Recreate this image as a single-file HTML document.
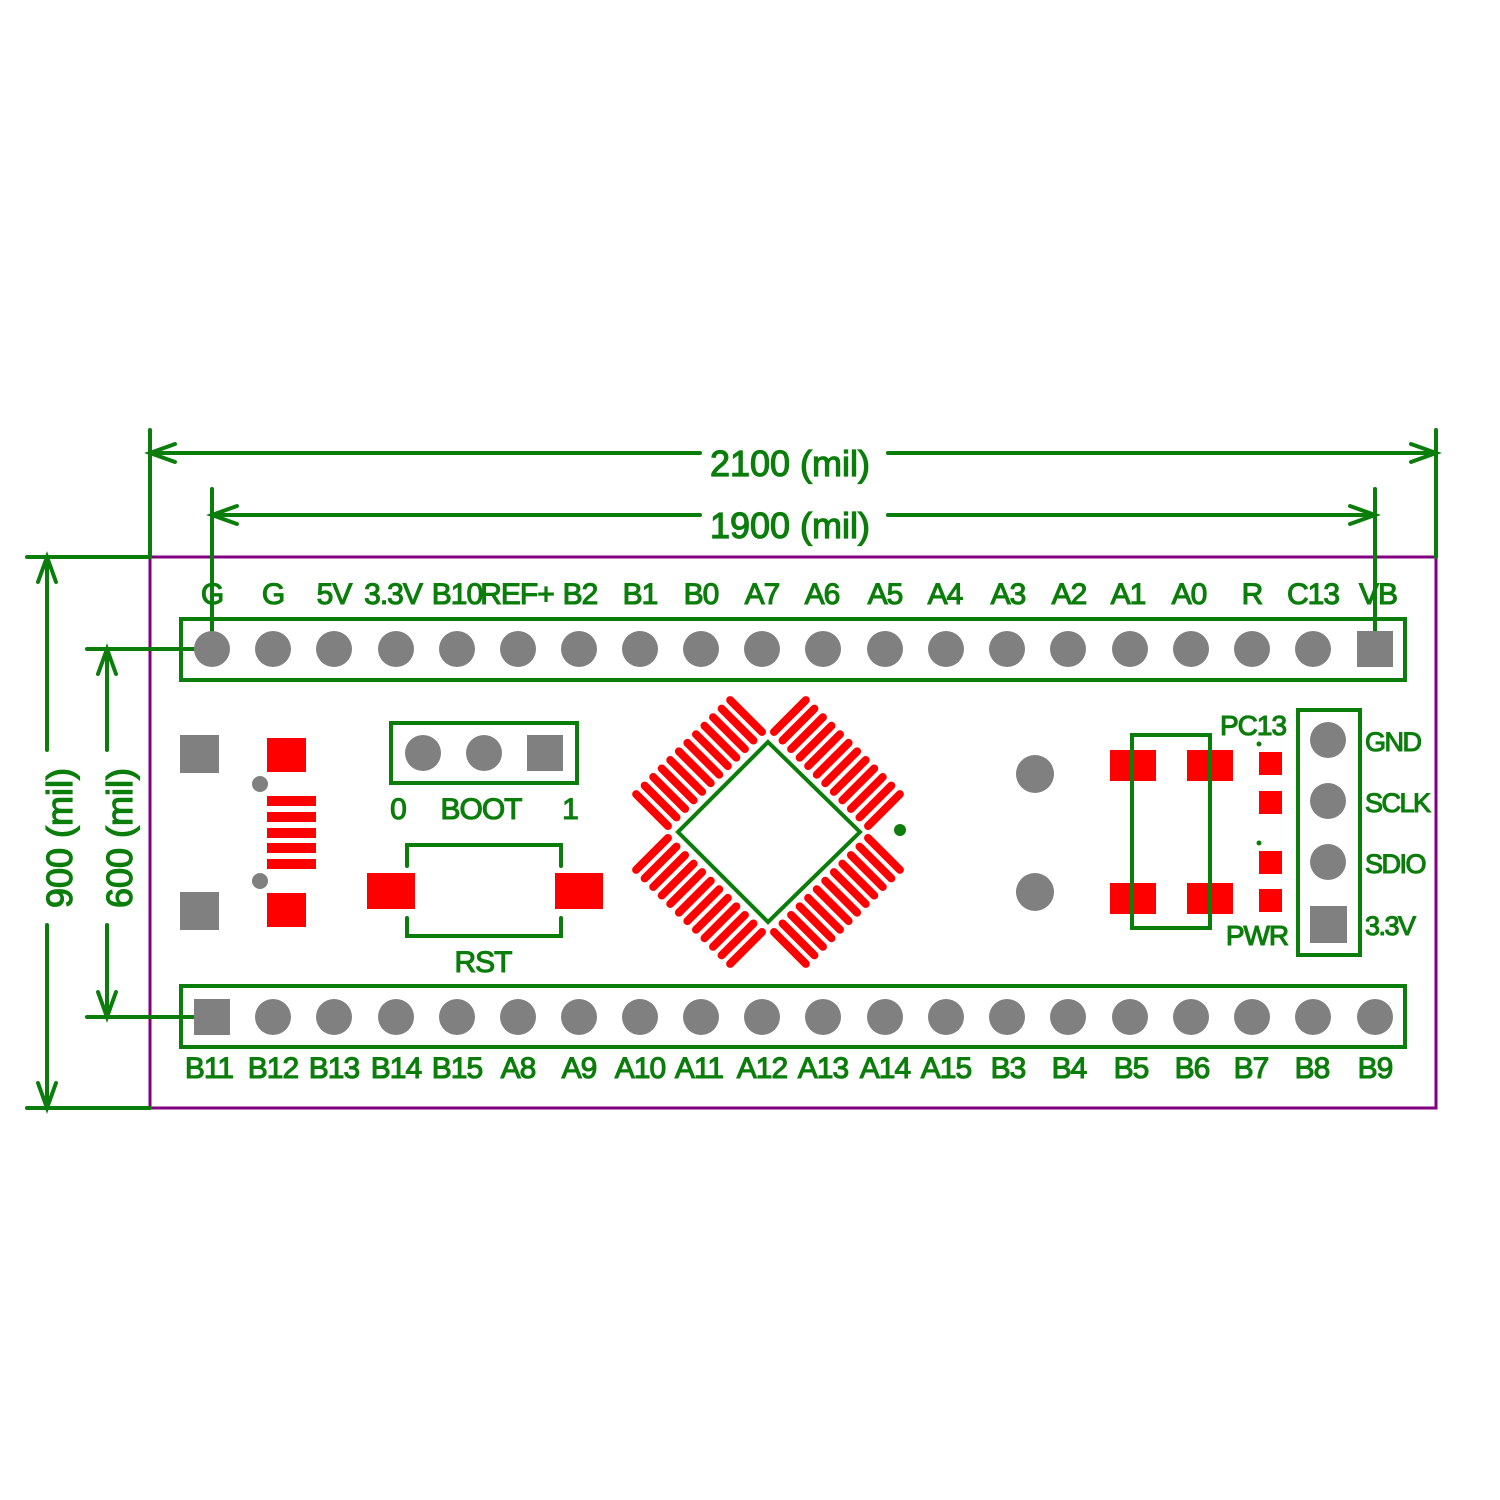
<!DOCTYPE html>
<html><head><meta charset="utf-8"><style>html,body{margin:0;padding:0;background:#fff}svg{display:block}</style></head>
<body>
<svg width="1500" height="1500" viewBox="0 0 1500 1500" xmlns="http://www.w3.org/2000/svg" font-family="Liberation Sans, sans-serif">
<rect width="1500" height="1500" fill="#fff"/>
<rect x="150" y="557" width="1286" height="551" fill="none" stroke="#800080" stroke-width="3"/>
<g stroke="#0b7d0b" stroke-width="4" fill="none" stroke-linecap="round">
  <line x1="150" y1="430" x2="150" y2="557"/>
  <line x1="1436" y1="430" x2="1436" y2="557"/>
  <line x1="150" y1="453" x2="700" y2="453"/>
  <line x1="888" y1="453" x2="1436" y2="453"/>
  <polyline points="175,444 150,453 175,462"/>
  <polyline points="1411,444 1436,453 1411,462"/>
  <line x1="212" y1="489" x2="212" y2="649"/>
  <line x1="1375" y1="489" x2="1375" y2="649"/>
  <line x1="212" y1="515" x2="700" y2="515"/>
  <line x1="888" y1="515" x2="1375" y2="515"/>
  <polyline points="237,506 212,515 237,524"/>
  <polyline points="1350,506 1375,515 1350,524"/>
  <line x1="27" y1="557" x2="150" y2="557"/>
  <line x1="27" y1="1108" x2="150" y2="1108"/>
  <line x1="47" y1="557" x2="47" y2="750"/>
  <line x1="47" y1="925" x2="47" y2="1108"/>
  <polyline points="38,582 47,557 56,582"/>
  <polyline points="38,1083 47,1108 56,1083"/>
  <line x1="87" y1="649" x2="212" y2="649"/>
  <line x1="87" y1="1017" x2="212" y2="1017"/>
  <line x1="107" y1="649" x2="107" y2="750"/>
  <line x1="107" y1="925" x2="107" y2="1017"/>
  <polyline points="98,674 107,649 116,674"/>
  <polyline points="98,992 107,1017 116,992"/>
  <rect x="181" y="619" width="1224" height="61"/>
  <rect x="181" y="986" width="1224" height="61"/>
  <rect x="391" y="723" width="186" height="60"/>
  <polyline points="407,866 407,845 561,845 561,866"/>
  <polyline points="407,918 407,936 561,936 561,918"/>
  <polygon points="768,742 860,832 768,922 678,832"/>
  <rect x="1132" y="735" width="78" height="193"/>
  <rect x="1298" y="710" width="62" height="245"/>
</g>
<circle cx="900" cy="830" r="6" fill="#0b7d0b"/>
<circle cx="1259" cy="744" r="2.5" fill="#0b7d0b"/>
<circle cx="1259" cy="843" r="2.5" fill="#0b7d0b"/>
<g fill="#0b7d0b" stroke="#0b7d0b" stroke-width="1.2" font-size="36" text-anchor="middle">
  <text x="790" y="476">2100 (mil)</text>
  <text x="790" y="538">1900 (mil)</text>
  <text transform="translate(72,838) rotate(-90)">900 (mil)</text>
  <text transform="translate(132,838) rotate(-90)">600 (mil)</text>
</g>
<g fill="#808080">
  <circle cx="212" cy="649" r="18"/><circle cx="273" cy="649" r="18"/><circle cx="334" cy="649" r="18"/><circle cx="396" cy="649" r="18"/><circle cx="457" cy="649" r="18"/><circle cx="518" cy="649" r="18"/><circle cx="579" cy="649" r="18"/><circle cx="640" cy="649" r="18"/><circle cx="701" cy="649" r="18"/><circle cx="762" cy="649" r="18"/><circle cx="823" cy="649" r="18"/><circle cx="885" cy="649" r="18"/><circle cx="946" cy="649" r="18"/><circle cx="1007" cy="649" r="18"/><circle cx="1068" cy="649" r="18"/><circle cx="1130" cy="649" r="18"/><circle cx="1191" cy="649" r="18"/><circle cx="1252" cy="649" r="18"/><circle cx="1313" cy="649" r="18"/>
  <rect x="1357" y="631" width="36" height="36"/>
  <rect x="194" y="999" width="36" height="36"/>
  <circle cx="273" cy="1017" r="18"/><circle cx="334" cy="1017" r="18"/><circle cx="396" cy="1017" r="18"/><circle cx="457" cy="1017" r="18"/><circle cx="518" cy="1017" r="18"/><circle cx="579" cy="1017" r="18"/><circle cx="640" cy="1017" r="18"/><circle cx="701" cy="1017" r="18"/><circle cx="762" cy="1017" r="18"/><circle cx="823" cy="1017" r="18"/><circle cx="885" cy="1017" r="18"/><circle cx="946" cy="1017" r="18"/><circle cx="1007" cy="1017" r="18"/><circle cx="1068" cy="1017" r="18"/><circle cx="1130" cy="1017" r="18"/><circle cx="1191" cy="1017" r="18"/><circle cx="1252" cy="1017" r="18"/><circle cx="1313" cy="1017" r="18"/><circle cx="1375" cy="1017" r="18"/>
  <rect x="180" y="735" width="39" height="38"/>
  <rect x="180" y="892" width="39" height="38"/>
  <circle cx="260" cy="784" r="8"/>
  <circle cx="260" cy="881" r="8"/>
  <circle cx="423" cy="753" r="18"/>
  <circle cx="484" cy="753" r="18"/>
  <rect x="527" y="735" width="36" height="36"/>
  <circle cx="1035" cy="774" r="19"/>
  <circle cx="1035" cy="892" r="19"/>
  <circle cx="1328" cy="740" r="18"/>
  <circle cx="1328" cy="801" r="18"/>
  <circle cx="1328" cy="862" r="18"/>
  <rect x="1310" y="906" width="37" height="37"/>
</g>
<g fill="#ff0000">
  <rect x="267" y="738" width="39" height="34"/>
  <rect x="267" y="893" width="39" height="34"/>
  <rect x="267" y="796" width="49" height="10"/>
  <rect x="267" y="812" width="49" height="10"/>
  <rect x="267" y="828" width="49" height="10"/>
  <rect x="267" y="843" width="49" height="10"/>
  <rect x="267" y="859" width="49" height="10"/>
  <rect x="367" y="873" width="48" height="36"/>
  <rect x="555" y="873" width="48" height="36"/>
  <rect x="1110" y="750" width="46" height="31"/>
  <rect x="1187" y="750" width="46" height="31"/>
  <rect x="1110" y="883" width="46" height="31"/>
  <rect x="1187" y="883" width="46" height="31"/>
  <rect x="1259" y="752" width="23" height="23"/>
  <rect x="1259" y="791" width="23" height="23"/>
  <rect x="1259" y="851" width="23" height="23"/>
  <rect x="1259" y="889" width="23" height="23"/>
</g>
<rect x="1132" y="735" width="78" height="193" fill="none" stroke="#0b7d0b" stroke-width="4"/>
<defs>
  <g id="pside" stroke="#ff0000" stroke-width="8" stroke-linecap="round">
    <line x1="648" y1="765.5" x2="693" y2="765.5"/>
    <line x1="648" y1="777.6" x2="693" y2="777.6"/>
    <line x1="648" y1="789.7" x2="693" y2="789.7"/>
    <line x1="648" y1="801.8" x2="693" y2="801.8"/>
    <line x1="648" y1="813.8" x2="693" y2="813.8"/>
    <line x1="648" y1="826" x2="693" y2="826"/>
    <line x1="648" y1="838" x2="693" y2="838"/>
    <line x1="648" y1="850.2" x2="693" y2="850.2"/>
    <line x1="648" y1="862.2" x2="693" y2="862.2"/>
    <line x1="648" y1="874.3" x2="693" y2="874.3"/>
    <line x1="648" y1="886.4" x2="693" y2="886.4"/>
    <line x1="648" y1="898.5" x2="693" y2="898.5"/>
  </g>
</defs>
<g transform="rotate(45 768 832)">
  <use href="#pside"/>
  <use href="#pside" transform="rotate(90 768 832)"/>
  <use href="#pside" transform="rotate(180 768 832)"/>
  <use href="#pside" transform="rotate(270 768 832)"/>
</g>
<g fill="#0b7d0b" stroke="#0b7d0b" stroke-width="1.1" font-size="30" text-anchor="middle" letter-spacing="-1">
  <text x="212" y="604">G</text><text x="273" y="604">G</text><text x="334" y="604">5V</text><text x="393" y="604">3.3V</text><text x="457" y="604">B10</text><text x="517" y="604">REF+</text><text x="580" y="604">B2</text><text x="640" y="604">B1</text><text x="701" y="604">B0</text><text x="762" y="604">A7</text><text x="822" y="604">A6</text><text x="885" y="604">A5</text><text x="945" y="604">A4</text><text x="1008" y="604">A3</text><text x="1069" y="604">A2</text><text x="1128" y="604">A1</text><text x="1189" y="604">A0</text><text x="1252" y="604">R</text><text x="1313" y="604">C13</text><text x="1378" y="604">VB</text>
  <text x="209" y="1078">B11</text><text x="273" y="1078">B12</text><text x="334" y="1078">B13</text><text x="396" y="1078">B14</text><text x="457" y="1078">B15</text><text x="518" y="1078">A8</text><text x="579" y="1078">A9</text><text x="640" y="1078">A10</text><text x="699" y="1078">A11</text><text x="762" y="1078">A12</text><text x="823" y="1078">A13</text><text x="885" y="1078">A14</text><text x="946" y="1078">A15</text><text x="1008" y="1078">B3</text><text x="1069" y="1078">B4</text><text x="1131" y="1078">B5</text><text x="1192" y="1078">B6</text><text x="1251" y="1078">B7</text><text x="1312" y="1078">B8</text><text x="1375" y="1078">B9</text>
  <text x="398" y="819">0</text><text x="481" y="819">BOOT</text><text x="570" y="819">1</text>
  <text x="483" y="972">RST</text>
  <text x="1253" y="735" font-size="28">PC13</text>
  <text x="1257" y="945" font-size="28">PWR</text>
</g>
<g fill="#0b7d0b" stroke="#0b7d0b" stroke-width="1.1" font-size="27" letter-spacing="-1.5">
  <text x="1365" y="751">GND</text>
  <text x="1365" y="812">SCLK</text>
  <text x="1365" y="873">SDIO</text>
  <text x="1365" y="935">3.3V</text>
</g>
</svg>
</body></html>
